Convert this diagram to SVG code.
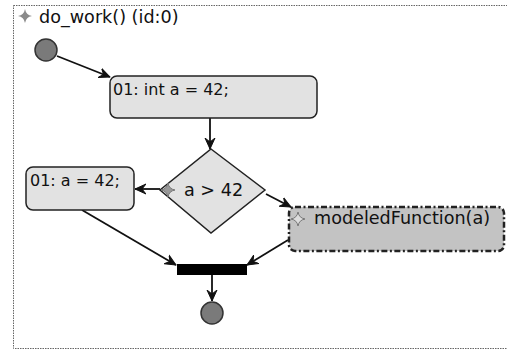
<svg xmlns="http://www.w3.org/2000/svg" width="507" height="351" viewBox="0 0 507 351">
<style>
.t{font-family:"DejaVu Sans",sans-serif;font-size:16px;fill:#111}
.big{font-size:17.6px}
.act{fill:#e2e2e2;stroke:#222;stroke-width:1.5}
.c{stroke:#111;stroke-width:1.8;fill:none}
.circ{fill:#7a7a7a;stroke:#333;stroke-width:1.5}
.ico{fill:#8a8a8a}
</style>
<defs>
<marker id="ah" viewBox="0 0 12 12" refX="11" refY="6" markerWidth="12" markerHeight="12" markerUnits="userSpaceOnUse" orient="auto">
<path d="M0,1 L11,6 L0,11 L4,6 Z" fill="#111" stroke="#111" stroke-width="1" stroke-linejoin="round"/>
</marker>
</defs>
<rect x="0" y="0" width="507" height="351" fill="#fff"/>
<g id="frame">
<rect x="13.5" y="5.5" width="500" height="343" fill="none" stroke="#666" stroke-width="1" stroke-dasharray="1.5,1"/>
<path class="ico" d="M25,9 Q26,15 32,16 Q26,17 25,23 Q24,17 18,16 Q24,15 25,9Z"/>
<text class="t big" x="39" y="23">do_work() (id:0)</text>
</g>
<g id="connectors">
<line class="c" x1="57" y1="56" x2="110" y2="77" marker-end="url(#ah)"/>
<line class="c" x1="210" y1="118" x2="210" y2="149" marker-end="url(#ah)"/>
<line class="c" x1="160" y1="189" x2="135" y2="189" marker-end="url(#ah)"/>
<line class="c" x1="266" y1="194" x2="291" y2="207" marker-end="url(#ah)"/>
<line class="c" x1="82" y1="210" x2="176" y2="265" marker-end="url(#ah)"/>
<line class="c" x1="288" y1="240" x2="247" y2="265" marker-end="url(#ah)"/>
<line class="c" x1="212" y1="275" x2="212" y2="301" marker-end="url(#ah)"/>
</g>
<g id="start">
<circle class="circ" cx="46" cy="50" r="11"/>
</g>
<g id="act1">
<rect class="act" x="110" y="76" width="207" height="42" rx="7"/>
<text class="t" x="113" y="95">01: int a = 42;</text>
</g>
<g id="decision">
<polygon class="act" points="211,149 265,190 211,233 160,190"/>
<path d="M168,183 Q169,189 175,190 Q169,191 168,197 Q167,191 161,190 Q167,189 168,183Z" fill="#999" stroke="#777" stroke-width="1"/>
<text class="t big" x="184" y="196">a &gt; 42</text>
</g>
<g id="act2">
<rect class="act" x="26" y="167" width="108" height="43" rx="7"/>
<text class="t" x="30" y="186">01: a = 42;</text>
</g>
<g id="modeled">
<rect x="289" y="207" width="215" height="44" rx="6" fill="#c3c3c3" stroke="#222" stroke-width="2.5" stroke-dasharray="6,2.5,2,2.5"/>
<path d="M298,212 Q299,218 305,219 Q299,220 298,226 Q297,220 291,219 Q297,218 298,212Z" fill="#ddd" stroke="#777" stroke-width="1"/>
<text class="t big" x="314" y="224">modeledFunction(a)</text>
</g>
<g id="join">
<rect x="177" y="264" width="70" height="11" fill="#000"/>
</g>
<g id="end">
<circle class="circ" cx="212" cy="313" r="11"/>
</g>
</svg>
